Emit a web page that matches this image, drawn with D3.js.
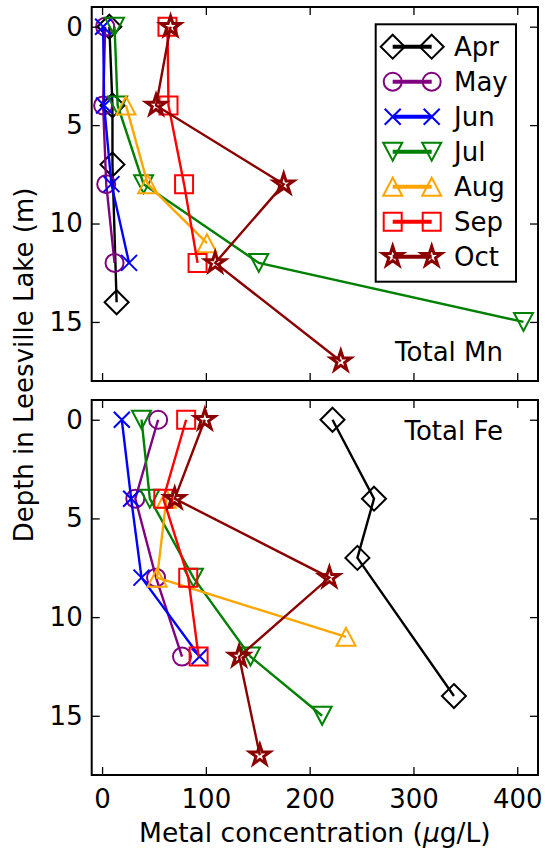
<!DOCTYPE html>
<html>
<head>
<meta charset="utf-8">
<script src="https://cdn.jsdelivr.net/npm/d3@7"></script>
<style>
  body { margin: 0; background: #fff; }
  text { font-family: "DejaVu Sans", sans-serif; }
</style>
</head>
<body>
<div id="chart"></div>
<script>

// Data
// ============================

const months = ["Apr", "May", "Jun", "Jul", "Aug", "Sep", "Oct"];
const monthColors = ["black", "purple", "blue", "green", "orange", "red", "darkred"];
const monthMarkers = ["diamond", "circle", "x", "tridown", "triup", "square", "star"];

// sampling depths (m), one list per month
const depths = [
  [0, 4, 7, 14],        // Apr
  [0, 4, 8, 12],        // May
  [0, 4, 8, 12],        // Jun
  [0, 4, 8, 12, 15],    // Jul
  [4, 8, 11],           // Aug
  [0, 4, 8, 12],        // Sep
  [0, 4, 8, 12, 17],    // Oct
];

// total Mn (ug/L)
const totalMn = [
  [7, 10, 10, 14],
  [3, 1, 4, 12],
  [1, 2, 9, 26],
  [12, 15, 40, 151, 406],
  [23, 44, 101],
  [63, 64, 79, 92],
  [66, 52, 175, 109, 230],
];

// total Fe (ug/L)
const totalFe = [
  [222, 262, 246, 339],
  [54, 32, 52, 77],
  [19, 28, 38, 94],
  [38, 46, 88, 143, 212],
  [62, 53, 235],
  [81, 59, 83, 93],
  [99, 70, 219, 132, 152],
];

const xTicks = [0, 100, 200, 300, 400];
const yTicks = [0, 5, 10, 15];
const panels = [
  { label: "Total Mn", values: totalMn },
  { label: "Total Fe", values: totalFe },
];


// Layout
// ======

const W = 545, H = 855;
const LEFT = 91.7, RIGHT = 538;
const PANEL_TOP = [7, 400];
const PANEL_BOTTOM = [381, 775];
const TICK = 8;
const FONT = 26;

const svg = d3.select('#chart').append('svg')
  .attr('width', W)
  .attr('height', H)
  .style('background', '#fff');

const x = d3.scaleLinear().domain([-10, 420]).range([LEFT, RIGHT]);


// Marker shapes
// =============

function markerPath(kind) {
  const p = d3.path();
  if (kind === 'diamond') {
    p.moveTo(0, -12); p.lineTo(12, 0); p.lineTo(0, 12); p.lineTo(-12, 0); p.closePath();
  } else if (kind === 'circle') {
    p.moveTo(9, 0); p.arc(0, 0, 9, 0, 2 * Math.PI);
  } else if (kind === 'x') {
    p.moveTo(-8, -8); p.lineTo(8, 8);
    p.moveTo(-8, 8); p.lineTo(8, -8);
  } else if (kind === 'tridown') {
    p.moveTo(-9.5, -9); p.lineTo(9.5, -9); p.lineTo(0, 9); p.closePath();
  } else if (kind === 'triup') {
    p.moveTo(0, -9); p.lineTo(9.5, 9); p.lineTo(-9.5, 9); p.closePath();
  } else if (kind === 'square') {
    p.rect(-9, -9, 18, 18);
  } else if (kind === 'star') {
    const R = 10.5, r = R * 0.382;
    for (let i = 0; i < 10; i++) {
      const a = -Math.PI / 2 + i * Math.PI / 5;
      const rr = i % 2 ? r : R;
      if (i === 0) p.moveTo(rr * Math.cos(a), rr * Math.sin(a));
      else p.lineTo(rr * Math.cos(a), rr * Math.sin(a));
    }
    p.closePath();
  }
  return p.toString();
}

const markerStroke = (kind) => kind === 'star' ? 3 : 2;


// Panels
// ======

panels.forEach((panel, pi) => {
  const top = PANEL_TOP[pi], bottom = PANEL_BOTTOM[pi];
  const y = d3.scaleLinear().domain([-1, 18]).range([top, bottom]);

  const g = svg.append('g');

  const clipId = 'clip' + pi;
  g.append('clipPath').attr('id', clipId)
    .append('rect')
      .attr('x', LEFT).attr('y', top)
      .attr('width', RIGHT - LEFT).attr('height', bottom - top);

  const plot = g.append('g').attr('clip-path', `url(#${clipId})`);

  const line = d3.line()
    .x(d => x(d.v))
    .y(d => y(d.depth));

  months.forEach((m, mi) => {
    const pts = depths[mi].map((dep, k) => ({ depth: dep, v: panel.values[mi][k] }));
    const color = monthColors[mi];

    plot.append('path')
      .datum(pts)
      .attr('fill', 'none')
      .attr('stroke', color)
      .attr('stroke-width', 2.4)
      .attr('d', line);

    plot.selectAll(null).data(pts)
      .enter()
      .append('path')
        .attr('transform', d => `translate(${x(d.v)},${y(d.depth)})`)
        .attr('d', markerPath(monthMarkers[mi]))
        .attr('fill', 'none')
        .attr('stroke', color)
        .attr('stroke-width', markerStroke(monthMarkers[mi]))
        .attr('stroke-linejoin', 'miter');
  });

  // axes, ticks pointing inwards on all four sides
  const axisStyle = (sel) => {
    sel.select('.domain').remove();
    sel.selectAll('.tick line').attr('stroke', 'black').attr('stroke-width', 1.3);
    sel.selectAll('.tick text')
      .attr('fill', 'black')
      .style('font-family', '"DejaVu Sans", sans-serif')
      .style('font-size', FONT + 'px');
  };

  g.append('g')
    .attr('transform', `translate(${LEFT},0)`)
    .call(d3.axisLeft(y).tickValues(yTicks).tickSize(-TICK).tickPadding(9))
    .call(axisStyle);

  g.append('g')
    .attr('transform', `translate(${RIGHT},0)`)
    .call(d3.axisRight(y).tickValues(yTicks).tickSize(-TICK).tickFormat(''))
    .call(axisStyle);

  g.append('g')
    .attr('transform', `translate(0,${top})`)
    .call(d3.axisTop(x).tickValues(xTicks).tickSize(-TICK).tickFormat(''))
    .call(axisStyle);

  g.append('g')
    .attr('transform', `translate(0,${bottom})`)
    .call(d3.axisBottom(x).tickValues(xTicks).tickSize(-TICK).tickPadding(15)
      .tickFormat(pi === 1 ? d3.format('d') : ''))
    .call(axisStyle);

  g.append('rect')
    .attr('x', LEFT).attr('y', top)
    .attr('width', RIGHT - LEFT).attr('height', bottom - top)
    .attr('fill', 'none')
    .attr('stroke', 'black')
    .attr('stroke-width', 2);

  // panel label
  g.append('text')
    .attr('x', 503)
    .attr('y', pi === 0 ? 361 : 440)
    .attr('text-anchor', 'end')
    .style('font-size', FONT + 'px')
    .text(panel.label);
});


// Legend (top panel)
// ==================

const legendRow = d3.scalePoint().domain(months).range([46.7, 256.7]);

const legend = svg.append('g');
legend.append('rect')
  .attr('x', 375.7).attr('y', 24.3)
  .attr('width', 516 - 375.7).attr('height', 281.7 - 24.3)
  .attr('fill', 'white')
  .attr('stroke', 'black')
  .attr('stroke-width', 2);

months.forEach((m, mi) => {
  const yy = legendRow(m);
  const color = monthColors[mi];
  legend.append('line')
    .attr('x1', 392.7).attr('x2', 431.7)
    .attr('y1', yy).attr('y2', yy)
    .attr('stroke', color)
    .attr('stroke-width', 4);
  [392.7, 431.7].forEach(xx => {
    legend.append('path')
      .attr('transform', `translate(${xx},${yy})`)
      .attr('d', markerPath(monthMarkers[mi]))
      .attr('fill', 'none')
      .attr('stroke', color)
      .attr('stroke-width', markerStroke(monthMarkers[mi]));
  });
  legend.append('text')
    .attr('x', 454)
    .attr('y', yy)
    .attr('dy', '0.36em')
    .style('font-size', FONT + 'px')
    .text(m);
});


// Axis titles
// ===========

const xTitle = svg.append('text')
  .attr('x', (LEFT + RIGHT) / 2)
  .attr('y', 842)
  .attr('text-anchor', 'middle')
  .style('font-size', '26.5px');
xTitle.append('tspan').text('Metal concentration (');
xTitle.append('tspan').style('font-style', 'italic').text('μ');
xTitle.append('tspan').text('g/L)');

svg.append('text')
  .attr('transform', 'translate(33,365) rotate(-90)')
  .attr('text-anchor', 'middle')
  .style('font-size', FONT + 'px')
  .text('Depth in Leesville Lake (m)');

</script>
</body>
</html>
